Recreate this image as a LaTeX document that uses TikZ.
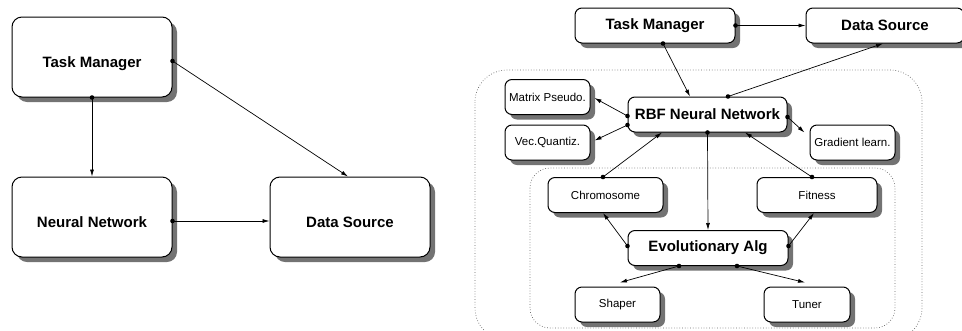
\documentclass[tikz,border=0pt]{standalone}
\usepackage{fontspec}
\setmainfont{Liberation Sans}
\usetikzlibrary{arrows.meta,shadows}
\tikzset{>={Latex[length=7pt,width=4pt]}}
\tikzset{
  box/.style={draw=black, line width=1pt, fill=white, rounded corners=7pt,
    drop shadow={shadow xshift=5pt, shadow yshift=-5pt, fill=black!55, opacity=1},
    inner sep=0pt, align=center},
  bigbox/.style={box, rounded corners=10pt, minimum width=160pt, minimum height=80pt,
    text height=25pt, text depth=4pt, font=\fontsize{15}{18}\selectfont\bfseries},
  mainbox/.style={box, minimum height=35pt, font=\fontsize{15}{18}\selectfont\bfseries},
  subbox/.style={box, minimum height=35pt, font=\fontsize{11.5}{14}\selectfont},
  link/.style={->, line width=0.7pt},
  group/.style={draw=black!60, dotted, line width=0.7pt}
}
\newcommand{\conn}[2]{\draw [link] (#1) -- (#2); \fill (#1) circle [radius=2.3pt];}

\begin{document}
\begin{tikzpicture}[x=1pt, y=-1pt]
	\useasboundingbox (0,0) rectangle (962,330);
	\clip (0,0) rectangle (962,330);
	\node [bigbox] (tmA) at (92,57) {Task Manager};
	\node [bigbox] (nnA) at (92,217) {Neural Network};
	\node [bigbox] (dsA) at (350,217) {Data Source};
	\conn{tmA.south}{nnA.north}
	\conn{[yshift=-4pt]tmA.east}{[xshift=-2pt]dsA.north}
	\conn{[yshift=-4pt]nnA.east}{[yshift=-4pt]dsA.west}

	\draw [group, rounded corners=32pt] (475,70) rectangle (922,340);
	\draw [group, rounded corners=20pt] (530,168) rectangle (895,328);
	\node [mainbox, minimum width=160pt] (tmB) at (655,25.5) {Task Manager};
	\node [mainbox, minimum width=158pt] (dsB) at (885,25.5) {Data Source};
	\node [mainbox, minimum width=159pt] (rbf) at (707.5,114.5) {RBF Neural Network};
	\node [mainbox, minimum width=160pt] (ea) at (708,248) {Evolutionary Alg};
	\node [subbox, minimum width=85pt] (mps) at (547.5,97) {Matrix Pseudo.};
	\node [subbox, minimum width=85pt] (vq) at (547.5,142.5) {Vec.Quantiz.};
	\node [subbox, minimum width=85pt] (gl) at (852.5,142.5) {Gradient learn.};
	\node [subbox, minimum width=115pt] (chr) at (605.5,195) {Chromosome};
	\node [subbox, minimum width=120pt] (fit) at (817,195) {Fitness};
	\node [subbox, minimum width=85pt] (shp) at (617.5,304.5) {Shaper};
	\node [subbox, minimum width=86pt] (tun) at (807,304.5) {Tuner};
	\conn{tmB.east}{dsB.west}
	\conn{[xshift=8pt]tmB.south}{[xshift=-17.5pt]rbf.north}
	\conn{[xshift=20.5pt]rbf.north}{[xshift=-2pt]dsB.south}
	\conn{[yshift=-1.5pt]rbf.west}{[xshift=4pt,yshift=-1pt]mps.east}
	\conn{[yshift=-10.5pt]rbf.west}{[xshift=4pt,yshift=2pt]vq.east}
	\conn{[yshift=-2.5pt]rbf.east}{[xshift=-5pt,yshift=10pt]gl.west}
	\conn{[xshift=-2.5pt]chr.north}{[xshift=-45.5pt]rbf.south}
	\conn{rbf.south}{ea.north}
	\conn{[xshift=-5pt]fit.north}{[xshift=37.5pt]rbf.south}
	\conn{[yshift=2pt]ea.west}{[xshift=-2.5pt]chr.south}
	\conn{[yshift=2pt]ea.east}{[xshift=-3pt]fit.south}
	\conn{[xshift=-29pt]ea.south}{[xshift=2.5pt,yshift=4pt]shp.north}
	\conn{[xshift=29pt]ea.south}{[xshift=-2pt,yshift=4pt]tun.north}
\end{tikzpicture}
\end{document}
